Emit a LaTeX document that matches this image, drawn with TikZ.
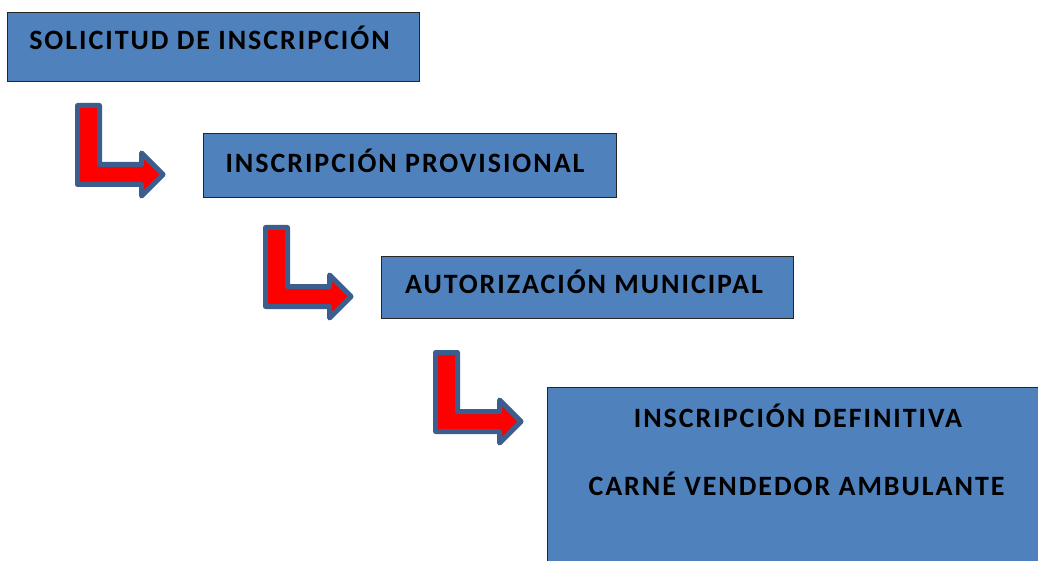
\documentclass[tikz,border=0pt]{standalone}
\usepackage{fontspec}
\setmainfont{Carlito}[LetterSpace=7]
\begin{document}
\begin{tikzpicture}[x=1pt,y=-1pt,
  box/.style={draw=black!85,line width=1pt,fill=boxblue,inner sep=0pt,anchor=north west},
  lbl/.style={font=\fontsize{28}{32}\selectfont\bfseries,anchor=base,inner sep=0pt,text=black},
  bentarrow/.style={draw=arrowblue,fill=red,line width=5pt,line join=round}]
\definecolor{boxblue}{HTML}{4F81BD}
\definecolor{arrowblue}{HTML}{3B5E8E}
\useasboundingbox (0,0) rectangle (1038,561);
\clip (0,0) rectangle (1038,561);
% boxes
\node[box,minimum width=412pt,minimum height=69pt] (b1) at (7,12) {};
\node[box,minimum width=413pt,minimum height=64pt] (b2) at (203,133) {};
\node[box,minimum width=412pt,minimum height=62pt] (b3) at (381,256) {};
\node[box,minimum width=500pt,minimum height=190pt] (b4) at (547,387) {};
% labels
\node[lbl] (t1) at (209.5,50) {SOLICITUD DE INSCRIPCIÓN};
\node[lbl] (t2) at (405,173) {INSCRIPCIÓN PROVISIONAL};
\node[lbl] (t3) at (584,293) {AUTORIZACIÓN MUNICIPAL};
\node[lbl] (t4) at (798,427) {INSCRIPCIÓN DEFINITIVA};
\node[lbl] (t5) at (796.5,495) {CARNÉ VENDEDOR AMBULANTE};
% bent arrows
\foreach \dx/\dy in {0/0,188/122,358/247}{
  \draw[bentarrow,shift={(\dx,\dy)}] (77.5,105.5) -- (99.5,105.5) -- (99.5,164.5) -- (141.5,164.5)
    -- (141.5,153) -- (163,174.5) -- (141.5,196) -- (141.5,184.5) -- (77.5,184.5) -- cycle;
}
\end{tikzpicture}
\end{document}
